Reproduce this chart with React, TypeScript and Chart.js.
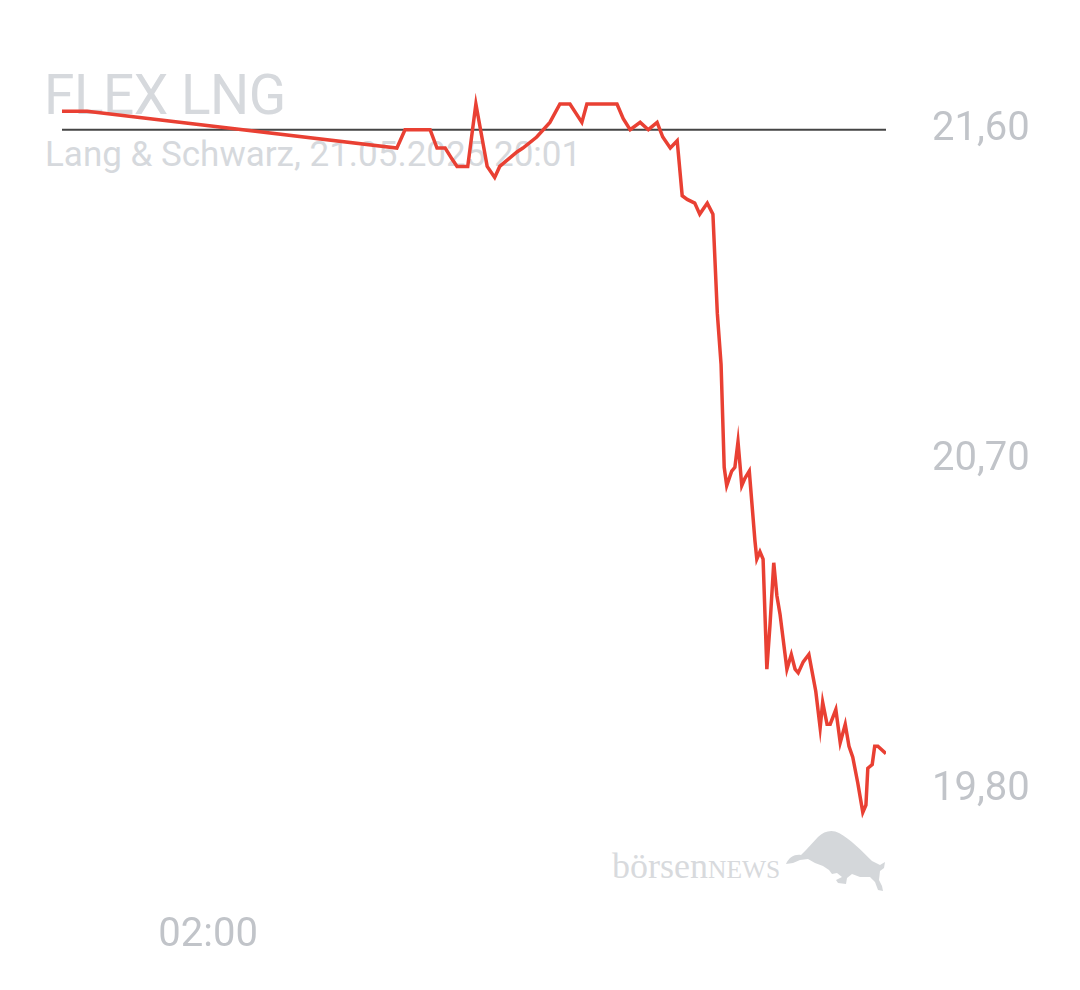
import { useEffect, useRef } from "react";
import { Chart, ChartConfiguration, registerables } from "chart.js";

Chart.register(...registerables);

// quote times (L&S, 20.05. evening then 21.05.2025) and prices in EUR
const times = [
  "22:07", "22:47", "07:01", "07:14", "07:54", "08:05", "08:18", "08:29",
  "08:37", "08:54", "09:07", "09:25", "09:37", "09:45", "10:13", "10:22",
  "10:44", "11:05", "11:21", "11:37", "11:56", "12:04", "12:52", "13:02",
  "13:13", "13:29", "13:42", "13:56", "14:05", "14:17", "14:28", "14:36",
  "14:44", "14:56", "15:04", "15:16", "15:25", "15:32", "15:38", "15:43",
  "15:47", "15:55", "16:00", "16:05", "16:11", "16:16", "16:23", "16:32",
  "16:35", "16:40", "16:45", "16:51", "16:56", "17:02", "17:07", "17:12",
  "17:23", "17:30", "17:36", "17:41", "17:49", "17:58", "18:09", "18:16",
  "18:20", "18:27", "18:32", "18:41", "18:48", "18:56", "19:02", "19:08",
  "19:16", "19:24", "19:29", "19:32", "19:39", "19:43", "19:48", "20:01",
];

const prices = [
  21.65, 21.65, 21.55, 21.6, 21.6, 21.55, 21.55, 21.52,
  21.5, 21.5, 21.67, 21.5, 21.47, 21.5, 21.54, 21.55,
  21.58, 21.62, 21.67, 21.67, 21.62, 21.67, 21.67, 21.63,
  21.6, 21.62, 21.6, 21.62, 21.58, 21.55, 21.57, 21.42,
  21.41, 21.4, 21.37, 21.4, 21.37, 21.1, 20.96, 20.68,
  20.63, 20.67, 20.68, 20.75, 20.63, 20.65, 20.67, 20.48,
  20.43, 20.45, 20.43, 20.13, 20.25, 20.42, 20.33, 20.28,
  20.13, 20.17, 20.13, 20.12, 20.15, 20.17, 20.07, 19.97,
  20.04, 19.98, 19.98, 20.02, 19.93, 19.98, 19.92, 19.89,
  19.82, 19.74, 19.76, 19.86, 19.87, 19.92, 19.92, 19.9,
];

const previousClose = 21.6;
const yTicks = [19.8, 20.7, 21.6];
const xTicks = ["02:00"];

const TICK_COLOR = "#c1c4c9";
const TEXT_COLOR = "#d6d9dd";
const LINE_COLOR = "#e94033";

// minutes relative to midnight of the last day, rolling over when the clock wraps
function toMinutes(list: string[]): number[] {
  let day = -1;
  let prev = -Infinity;
  return list.map((s) => {
    const [h, m] = s.split(":").map(Number);
    const v = h * 60 + m;
    if (v < prev) day++;
    prev = v;
    return day * 1440 + v;
  });
}

function formatTime(v: number): string {
  const m = ((v % 1440) + 1440) % 1440;
  const hh = String(Math.floor(m / 60)).padStart(2, "0");
  const mm = String(m % 60).padStart(2, "0");
  return `${hh}:${mm}`;
}

function PriceChart() {
  const canvasRef = useRef<HTMLCanvasElement>(null);
  const chartRef = useRef<Chart | null>(null);

  useEffect(() => {
    if (!canvasRef.current) return;
    const ctx = canvasRef.current.getContext("2d");
    if (!ctx) return;

    const xs = toMinutes(times);
    const xMin = xs[0];
    const xMax = xs[xs.length - 1];
    const points = xs.map((x, i) => ({ x, y: prices[i] }));

    const config: ChartConfiguration<"line"> = {
      type: "line",
      data: {
        datasets: [
          {
            data: points,
            borderColor: LINE_COLOR,
            borderWidth: 3.5,
            pointRadius: 0,
            tension: 0,
            order: 0,
          },
          {
            data: [
              { x: xMin, y: previousClose },
              { x: xMax, y: previousClose },
            ],
            borderColor: "#454545",
            borderWidth: 2,
            pointRadius: 0,
            order: 1,
          },
        ],
      },
      options: {
        animation: false,
        responsive: true,
        maintainAspectRatio: false,
        layout: { padding: { left: 62, top: 93, right: 0, bottom: 0 } },
        plugins: {
          legend: { display: false },
          tooltip: { enabled: false },
        },
        scales: {
          x: {
            type: "linear",
            min: xMin,
            max: xMax,
            grid: { display: false },
            border: { display: false },
            afterBuildTicks: (scale) => {
              scale.ticks = toMinutes(xTicks).map((v) => ({ value: v + 1440 }));
            },
            afterFit: (scale) => {
              scale.height = 163;
            },
            ticks: {
              padding: 77,
              color: TICK_COLOR,
              font: { family: "Roboto", size: 40 },
              maxRotation: 0,
              callback: (v) => formatTime(Number(v)),
            },
          },
          y: {
            position: "right",
            min: 19.7,
            max: 21.7,
            grid: { display: false },
            border: { display: false },
            afterBuildTicks: (scale) => {
              scale.ticks = yTicks.map((v) => ({ value: v }));
            },
            afterFit: (scale) => {
              scale.width = 194;
            },
            ticks: {
              padding: 38,
              color: TICK_COLOR,
              font: { family: "Roboto", size: 40 },
              callback: (v) => Number(v).toFixed(2).replace(".", ","),
            },
          },
        },
      },
    };

    chartRef.current = new Chart(ctx, config);

    return () => {
      if (chartRef.current) {
        chartRef.current.destroy();
        chartRef.current = null;
      }
    };
  }, []);

  return (
    <div
      style={{
        position: "absolute",
        left: 0,
        top: 0,
        width: 1080,
        height: 990,
        background: "#fff",
        fontFamily: "Roboto, sans-serif",
      }}
    >
      <div
        style={{
          position: "absolute",
          left: 44,
          top: 68,
          fontSize: 55,
          lineHeight: 1,
          color: TEXT_COLOR,
          letterSpacing: -0.5,
          whiteSpace: "nowrap",
        }}
      >
        FLEX LNG
      </div>
      <div
        style={{
          position: "absolute",
          left: 45,
          top: 137,
          fontSize: 35,
          lineHeight: 1,
          color: TEXT_COLOR,
          whiteSpace: "nowrap",
        }}
      >
        Lang &amp; Schwarz, 21.05.2025 20:01
      </div>
      <div
        style={{
          position: "absolute",
          left: 612,
          top: 848,
          fontFamily: "'Liberation Serif', 'DejaVu Serif', serif",
          fontSize: 36,
          lineHeight: 1,
          color: "#d8dadd",
          whiteSpace: "nowrap",
        }}
      >
        börsen<span style={{ fontSize: 25.5 }}>NEWS</span>
      </div>
      <svg
        width={112}
        height={70}
        viewBox="0 0 112 70"
        style={{ position: "absolute", left: 780, top: 826 }}
      >
        <path
          fill="#d4d7da"
          d="M 6 38 C 9 31, 15 28, 21 29 L 26 24 L 38 11 C 44 5, 52 3, 59 7 C 70 13, 82 25, 92 35 L 100 39 L 105 36 L 104 42 L 100 45 L 99 54 L 102 60 L 103 65 L 98 64 L 95 56 L 90 51 L 80 51 L 72 48 L 67 52 L 66 58 L 58 57 L 56 54 L 62 51 L 57 47 L 52 48 L 49 44 L 43 40 L 35 37 L 28 33 L 20 34 L 13 37 Z"
        />
      </svg>
      <canvas
        ref={canvasRef}
        style={{ position: "absolute", left: 0, top: 0, zIndex: 1 }}
      />
    </div>
  );
}

export default function App() {
  return <PriceChart />;
}
